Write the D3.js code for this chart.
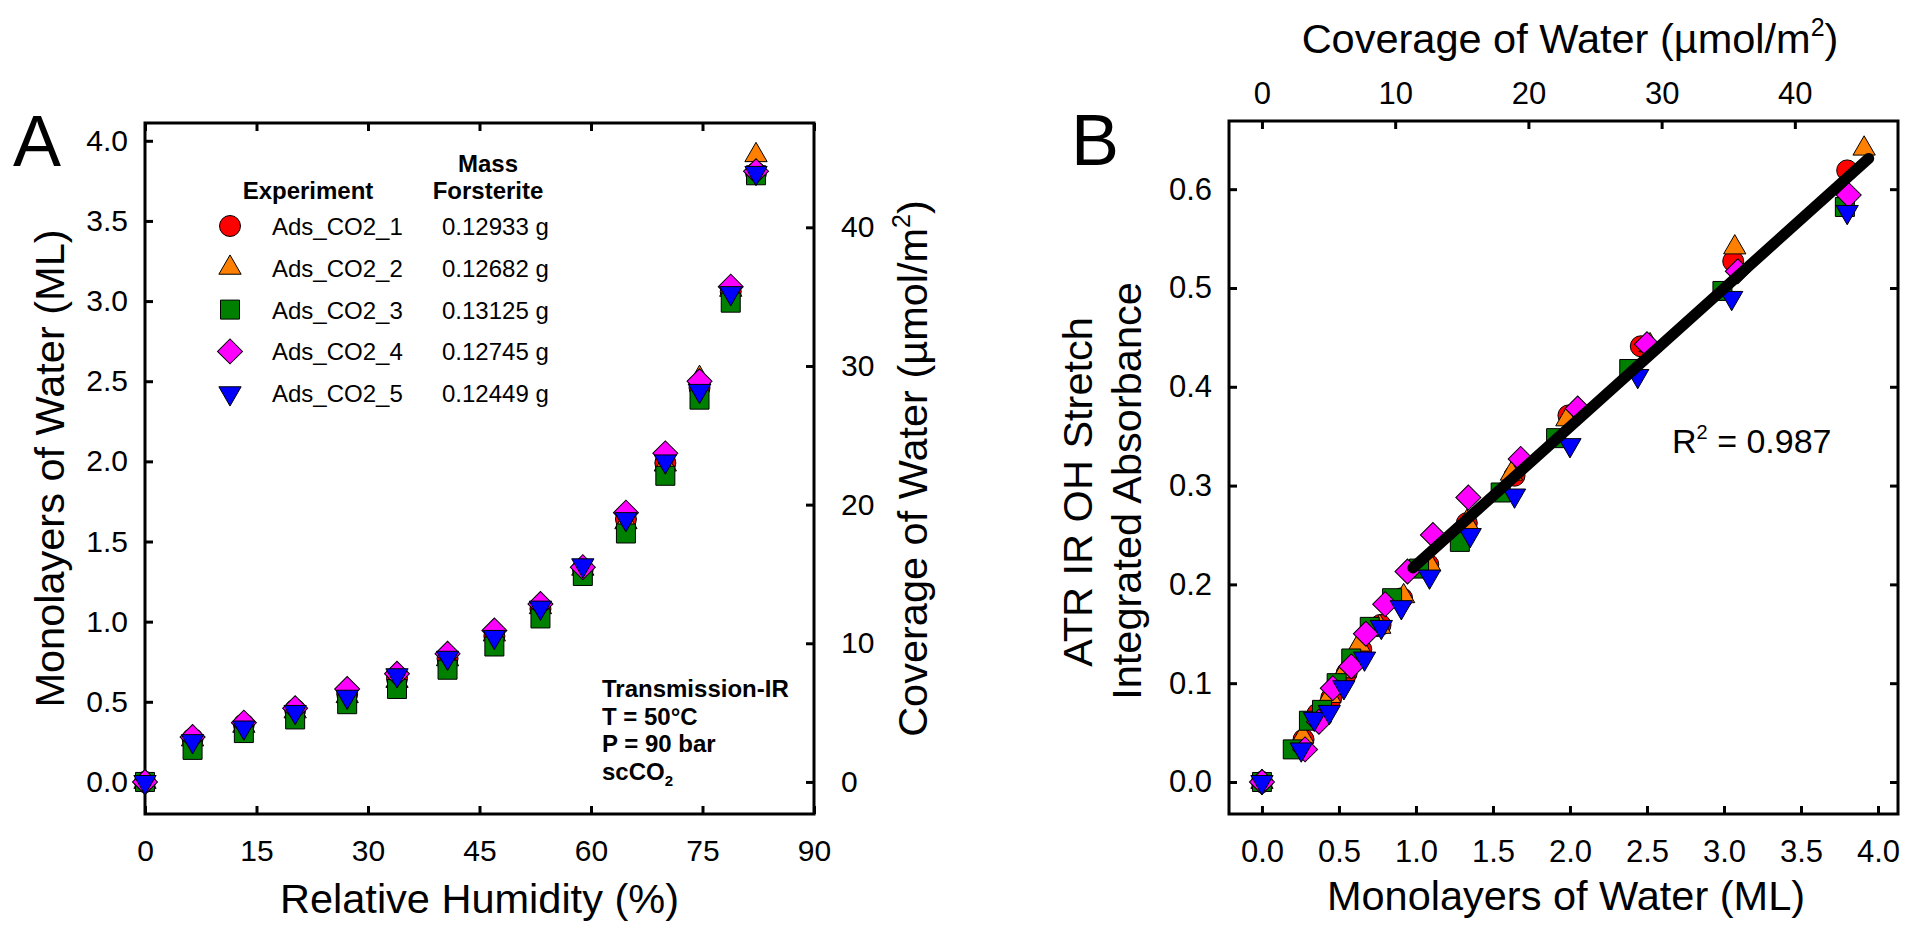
<!DOCTYPE html>
<html>
<head>
<meta charset="utf-8">
<script src="https://cdn.jsdelivr.net/npm/d3@7"></script>
<style>
  body { margin: 0; background: #fff; }
  svg { display: block; }
  text { font-family: "Liberation Sans", Arial, sans-serif; fill: #000; }
</style>
</head>
<body>
<script>
// relative humidity steps (%) - same for every run
const rh = [0, 6.4, 13.3, 20.2, 27.2, 33.9, 40.7, 47.0, 53.2, 58.9, 64.7, 70.0, 74.6, 78.8, 82.2];

// monolayers of water per run (panel A y, panel B x)
const mlAds1 = [0, 0.27, 0.36, 0.45, 0.55, 0.645, 0.77, 0.91, 1.08, 1.33, 1.64, 1.99, 2.46, 3.06, 3.80];
const mlAds2 = [0, 0.265, 0.35, 0.44, 0.535, 0.63, 0.765, 0.92, 1.09, 1.33, 1.62, 1.98, 2.52, 3.07, 3.91];
const mlAds3 = [0, 0.20, 0.305, 0.39, 0.485, 0.58, 0.70, 0.845, 1.02, 1.285, 1.55, 1.91, 2.385, 2.99, 3.785];
const mlAds4 = [0, 0.28, 0.37, 0.46, 0.58, 0.675, 0.80, 0.945, 1.11, 1.34, 1.68, 2.05, 2.50, 3.09, 3.81];
const mlAds5 = [0, 0.255, 0.34, 0.437, 0.532, 0.666, 0.775, 0.905, 1.088, 1.352, 1.64, 2.00, 2.44, 3.05, 3.80];

// ATR IR OH stretch integrated absorbance per run (panel B y)
const absAds1 = [0, 0.043, 0.069, 0.085, 0.110, 0.134, 0.159, 0.186, 0.220, 0.262, 0.310, 0.371, 0.441, 0.527, 0.619];
const absAds2 = [0, 0.046, 0.064, 0.087, 0.112, 0.139, 0.157, 0.188, 0.220, 0.263, 0.312, 0.367, 0.442, 0.541, 0.641];
const absAds3 = [0, 0.033, 0.062, 0.073, 0.100, 0.125, 0.157, 0.186, 0.216, 0.243, 0.293, 0.348, 0.418, 0.497, 0.582];
const absAds4 = [0, 0.033, 0.061, 0.095, 0.117, 0.150, 0.180, 0.213, 0.250, 0.288, 0.327, 0.378, 0.443, 0.517, 0.594];
const absAds5 = [0, 0.033, 0.064, 0.071, 0.096, 0.125, 0.157, 0.177, 0.208, 0.250, 0.290, 0.341, 0.411, 0.490, 0.577];

const runNames = ['Ads_CO2_1', 'Ads_CO2_2', 'Ads_CO2_3', 'Ads_CO2_4', 'Ads_CO2_5'];
const runMass = ['0.12933 g', '0.12682 g', '0.13125 g', '0.12745 g', '0.12449 g'];
const runColors = ['#ff0000', '#ff8000', '#008000', '#ff00ff', '#0000ff'];
const runShapes = ['circle', 'triangle', 'square', 'diamond', 'triangleDown'];

const rhTicks = [0, 15, 30, 45, 60, 75, 90];
const mlTicks = [0, 0.5, 1.0, 1.5, 2.0, 2.5, 3.0, 3.5, 4.0];
const covTicks = [0, 10, 20, 30, 40];
const absTicks = [0, 0.1, 0.2, 0.3, 0.4, 0.5, 0.6];

const mlToCov = 11.56;          // 1 ML in umol/m2
const fitSlope = 0.140;         // linear fit, panel B
const fitIntercept = 0.0795;
const fitRange = [0.98, 3.94];
const fitR2 = '0.987';

const runs = runNames.map((name, i) => ({
  name: name,
  mass: runMass[i],
  color: runColors[i],
  shape: runShapes[i],
  ml: [mlAds1, mlAds2, mlAds3, mlAds4, mlAds5][i],
  abs: [absAds1, absAds2, absAds3, absAds4, absAds5][i]
}));

const W = 1906, H = 929;
const svg = d3.select('body').append('svg').attr('width', W).attr('height', H);

// marker shapes
function markerPath(shape) {
  if (shape === 'circle') return d3.symbol(d3.symbolCircle, 346)();
  if (shape === 'square') return d3.symbol(d3.symbolSquare, 361)();
  if (shape === 'diamond') return d3.symbol(d3.symbolSquare, 313)();
  return d3.symbol(d3.symbolTriangle, 215)();
}
function markerRot(shape) {
  if (shape === 'diamond') return ' rotate(45)';
  if (shape === 'triangleDown') return ' rotate(180)';
  return '';
}
function drawMarkers(g, pts, run) {
  g.selectAll(null)
    .data(pts)
    .enter().append('path')
    .attr('d', markerPath(run.shape))
    .attr('transform', d => 'translate(' + d[0] + ',' + d[1] + ')' + markerRot(run.shape))
    .attr('fill', run.color)
    .attr('stroke', '#000')
    .attr('stroke-width', 1);
}
function styleAxis(g, size) {
  g.select('.domain').remove();
  g.selectAll('line').attr('stroke', '#000').attr('stroke-width', 3);
  g.selectAll('text').attr('font-size', size).attr('font-family', '"Liberation Sans", Arial, sans-serif');
}

// ---------------- Panel A ----------------
const fa = { left: 145, right: 814, top: 123, bottom: 814 };
const xA = d3.scaleLinear().domain([0, 90]).range([fa.left, fa.right]);
const yA = d3.scaleLinear().domain([-0.2, 4.111]).range([fa.bottom, fa.top]);
const covA = d3.scaleLinear().domain(yA.domain().map(v => v * mlToCov)).range([fa.bottom, fa.top]);

const gA = svg.append('g');

gA.append('g').attr('transform', 'translate(0,' + fa.bottom + ')')
  .call(d3.axisBottom(xA).tickValues(rhTicks).tickSize(-8).tickPadding(26).tickFormat(d3.format('d')))
  .call(g => styleAxis(g, 30));
gA.append('g').attr('transform', 'translate(0,' + fa.top + ')')
  .call(d3.axisTop(xA).tickValues(rhTicks).tickSize(-8).tickFormat(''))
  .call(g => styleAxis(g, 30));
gA.append('g').attr('transform', 'translate(' + fa.left + ',0)')
  .call(d3.axisLeft(yA).tickValues(mlTicks).tickSize(-8).tickPadding(17).tickFormat(d3.format('.1f')))
  .call(g => styleAxis(g, 30));
gA.append('g').attr('transform', 'translate(' + fa.right + ',0)')
  .call(d3.axisRight(covA).tickValues(covTicks).tickSize(-8).tickPadding(27).tickFormat(d3.format('d')))
  .call(g => styleAxis(g, 30));

gA.append('rect')
  .attr('x', fa.left).attr('y', fa.top)
  .attr('width', fa.right - fa.left).attr('height', fa.bottom - fa.top)
  .attr('fill', 'none').attr('stroke', '#000').attr('stroke-width', 3);

runs.forEach(run => {
  drawMarkers(gA, rh.map((v, i) => [xA(v), yA(run.ml[i])]), run);
});

// axis titles A
gA.append('text').attr('x', (fa.left + fa.right) / 2).attr('y', 913)
  .attr('text-anchor', 'middle').attr('font-size', 41.5).text('Relative Humidity (%)');
gA.append('text').attr('transform', 'translate(64,' + (fa.top + fa.bottom) / 2 + ') rotate(-90)')
  .attr('text-anchor', 'middle').attr('font-size', 41.5).text('Monolayers of Water (ML)');
const covTitleA = gA.append('text').attr('transform', 'translate(927,' + (fa.top + fa.bottom) / 2 + ') rotate(-90)')
  .attr('text-anchor', 'middle').attr('font-size', 41.5);
covTitleA.append('tspan').text('Coverage of Water (\u00b5mol/m');
covTitleA.append('tspan').attr('font-size', 25).attr('dy', -17).text('2');
covTitleA.append('tspan').attr('dy', 17).text(')');

gA.append('text').attr('x', 13).attr('y', 166).attr('font-size', 72).text('A');

// legend A
gA.append('text').attr('x', 488).attr('y', 172).attr('text-anchor', 'middle')
  .attr('font-size', 24).attr('font-weight', 'bold').text('Mass');
gA.append('text').attr('x', 488).attr('y', 199).attr('text-anchor', 'middle')
  .attr('font-size', 24).attr('font-weight', 'bold').text('Forsterite');
gA.append('text').attr('x', 308).attr('y', 199).attr('text-anchor', 'middle')
  .attr('font-size', 24).attr('font-weight', 'bold').text('Experiment');

runs.forEach((run, i) => {
  const cy = 226 + i * 41.8;
  drawMarkers(gA, [[230, cy]], run);
  gA.append('text').attr('x', 272).attr('y', cy + 9).attr('font-size', 24).text(run.name);
  gA.append('text').attr('x', 442).attr('y', cy + 9).attr('font-size', 24).text(run.mass);
});

// conditions note
const noteLines = ['Transmission-IR', 'T = 50\u00b0C', 'P = 90 bar'];
noteLines.forEach((t, i) => {
  gA.append('text').attr('x', 602).attr('y', 697 + i * 27.7)
    .attr('font-size', 24).attr('font-weight', 'bold').text(t);
});
const scco2 = gA.append('text').attr('x', 602).attr('y', 780)
  .attr('font-size', 24).attr('font-weight', 'bold');
scco2.append('tspan').text('scCO');
scco2.append('tspan').attr('font-size', 15).attr('dy', 6).text('2');

// ---------------- Panel B ----------------
const fb = { left: 1229, right: 1898, top: 121, bottom: 814 };
const xB = d3.scaleLinear().domain([-0.214, 4.13]).range([fb.left, fb.right]);
const yB = d3.scaleLinear().domain([-0.0324, 0.669]).range([fb.bottom, fb.top]);
const covB = d3.scaleLinear().domain(xB.domain().map(v => v * mlToCov)).range([fb.left, fb.right]);

const gB = svg.append('g');

gB.append('g').attr('transform', 'translate(0,' + fb.bottom + ')')
  .call(d3.axisBottom(xB).tickValues(mlTicks).tickSize(-8).tickPadding(26).tickFormat(d3.format('.1f')))
  .call(g => styleAxis(g, 31));
gB.append('g').attr('transform', 'translate(0,' + fb.top + ')')
  .call(d3.axisTop(covB).tickValues(covTicks).tickSize(-8).tickPadding(17).tickFormat(d3.format('d')))
  .call(g => styleAxis(g, 31));
gB.append('g').attr('transform', 'translate(' + fb.left + ',0)')
  .call(d3.axisLeft(yB).tickValues(absTicks).tickSize(-8).tickPadding(17).tickFormat(d3.format('.1f')))
  .call(g => styleAxis(g, 31));
gB.append('g').attr('transform', 'translate(' + fb.right + ',0)')
  .call(d3.axisRight(yB).tickValues(absTicks).tickSize(-8).tickFormat(''))
  .call(g => styleAxis(g, 31));

gB.append('rect')
  .attr('x', fb.left).attr('y', fb.top)
  .attr('width', fb.right - fb.left).attr('height', fb.bottom - fb.top)
  .attr('fill', 'none').attr('stroke', '#000').attr('stroke-width', 3);

runs.forEach(run => {
  drawMarkers(gB, run.ml.map((v, i) => [xB(v), yB(run.abs[i])]), run);
});

// linear fit
const fitLine = d3.line().x(d => xB(d)).y(d => yB(fitIntercept + fitSlope * d));
gB.append('path').attr('d', fitLine(fitRange))
  .attr('fill', 'none').attr('stroke', '#000').attr('stroke-width', 11).attr('stroke-linecap', 'round');

const r2 = gB.append('text').attr('x', 1672).attr('y', 453).attr('font-size', 34);
r2.append('tspan').text('R');
r2.append('tspan').attr('font-size', 20).attr('dy', -14).text('2');
r2.append('tspan').attr('dy', 14).text(' = ' + fitR2);

// axis titles B
gB.append('text').attr('x', 1566).attr('y', 910)
  .attr('text-anchor', 'middle').attr('font-size', 41.5).text('Monolayers of Water (ML)');
const covTitleB = gB.append('text').attr('x', 1570).attr('y', 53)
  .attr('text-anchor', 'middle').attr('font-size', 41.5);
covTitleB.append('tspan').text('Coverage of Water (\u00b5mol/m');
covTitleB.append('tspan').attr('font-size', 25).attr('dy', -17).text('2');
covTitleB.append('tspan').attr('dy', 17).text(')');
gB.append('text').attr('transform', 'translate(1092,492) rotate(-90)')
  .attr('text-anchor', 'middle').attr('font-size', 41.5).text('ATR IR OH Stretch');
gB.append('text').attr('transform', 'translate(1141,491) rotate(-90)')
  .attr('text-anchor', 'middle').attr('font-size', 41.5).text('Integrated Absorbance');

gB.append('text').attr('x', 1071).attr('y', 165).attr('font-size', 72).text('B');
</script>
</body>
</html>
